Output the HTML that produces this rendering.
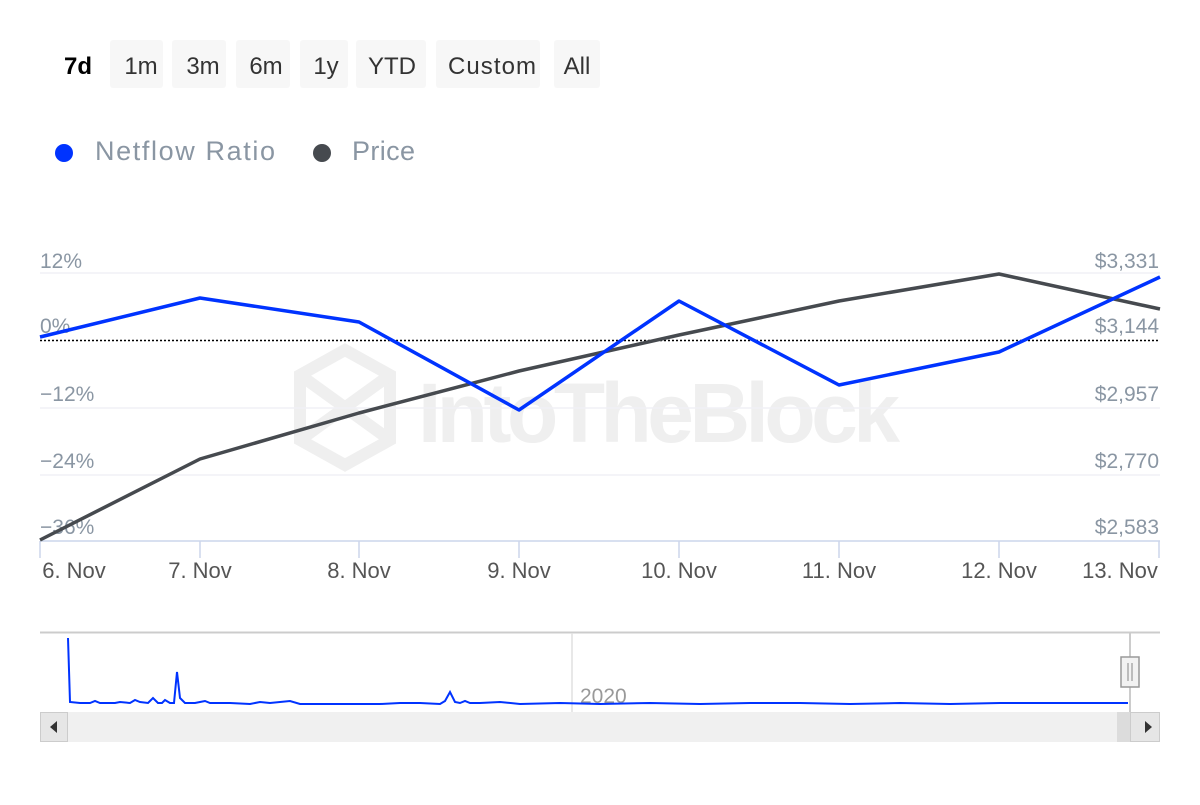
<!DOCTYPE html>
<html><head><meta charset="utf-8"><style>
body{margin:0;background:#fff;width:1200px;height:800px;overflow:hidden;font-family:"Liberation Sans","DejaVu Sans",sans-serif}
</style></head><body>
<svg width="1200" height="800" xmlns="http://www.w3.org/2000/svg" font-family="Liberation Sans, DejaVu Sans, sans-serif">
<g font-size="24" fill="#333" text-anchor="middle">
<text x="78" y="74" font-weight="bold" fill="#000">7d</text>
<rect x="110" y="40" width="53" height="48" rx="3" fill="#f7f7f7"/><text x="141" y="74">1m</text>
<rect x="172" y="40" width="54" height="48" rx="3" fill="#f7f7f7"/><text x="203" y="74">3m</text>
<rect x="236" y="40" width="54" height="48" rx="3" fill="#f7f7f7"/><text x="266" y="74">6m</text>
<rect x="300" y="40" width="48" height="48" rx="3" fill="#f7f7f7"/><text x="326" y="74">1y</text>
<rect x="356" y="40" width="70" height="48" rx="3" fill="#f7f7f7"/><text x="392" y="74">YTD</text>
<rect x="436" y="40" width="104" height="48" rx="3" fill="#f7f7f7"/><text x="492" y="74" textLength="88">Custom</text>
<rect x="554" y="40" width="46" height="48" rx="3" fill="#f7f7f7"/><text x="577" y="74">All</text>
</g>
<circle cx="64" cy="153" r="9" fill="#0033ff"/>
<text x="95" y="160" font-size="27" fill="#8a96a3" textLength="180">Netflow Ratio</text>
<circle cx="322" cy="153" r="9" fill="#464a4f"/>
<text x="352" y="160" font-size="27" fill="#8a96a3" textLength="63">Price</text>
<!-- watermark -->
<g fill="none" stroke="#efefef" stroke-width="12">
<polygon points="345,350 390,375 390,440 345,465 300,440 300,375"/>
<path d="M300,375 L390,440 M390,375 L300,440"/>
</g>
<text x="418" y="442" font-size="84" font-weight="bold" fill="#efefef" textLength="482">IntoTheBlock</text>
<!-- grid -->
<g stroke="#f0f0f5" stroke-width="1.5">
<line x1="40" y1="273" x2="1160" y2="273"/><line x1="40" y1="408" x2="1160" y2="408"/><line x1="40" y1="475" x2="1160" y2="475"/>
</g>
<line x1="40" y1="340.5" x2="1160" y2="340.5" stroke="#000" stroke-width="1.5" stroke-dasharray="2,2"/>
<line x1="40" y1="541" x2="1160" y2="541" stroke="#ccd6eb" stroke-width="1.5"/>
<g stroke="#ccd6eb" stroke-width="1.5">
<line x1="40" y1="541" x2="40" y2="558"/><line x1="200" y1="541" x2="200" y2="558"/><line x1="359" y1="541" x2="359" y2="558"/><line x1="519" y1="541" x2="519" y2="558"/><line x1="679" y1="541" x2="679" y2="558"/><line x1="839" y1="541" x2="839" y2="558"/><line x1="999" y1="541" x2="999" y2="558"/><line x1="1159" y1="541" x2="1159" y2="558"/>
</g>
<g font-size="21" fill="#8a96a3">
<text x="40" y="268">12%</text><text x="40" y="333">0%</text><text x="40" y="401">−12%</text><text x="40" y="468">−24%</text><text x="40" y="534">−36%</text>
</g>
<g font-size="21" fill="#8a96a3" text-anchor="end">
<text x="1159" y="268">$3,331</text><text x="1159" y="333">$3,144</text><text x="1159" y="401">$2,957</text><text x="1159" y="468">$2,770</text><text x="1159" y="534">$2,583</text>
</g>
<g font-size="22" fill="#555" text-anchor="middle">
<text x="74" y="578">6. Nov</text><text x="200" y="578">7. Nov</text><text x="359" y="578">8. Nov</text><text x="519" y="578">9. Nov</text><text x="679" y="578">10. Nov</text><text x="839" y="578">11. Nov</text><text x="999" y="578">12. Nov</text><text x="1120" y="578">13. Nov</text>
</g>
<polyline fill="none" stroke="#464a4f" stroke-width="3.5" stroke-linejoin="round" points="40,540 200,459 359,413 519,371 679,335 839,301 999,274 1160,309"/>
<polyline fill="none" stroke="#0033ff" stroke-width="3.5" stroke-linejoin="round" points="40,337 200,298 359,322 519,410 679,301 839,385 999,352 1160,277"/>
<!-- navigator -->
<line x1="40" y1="632.5" x2="1160" y2="632.5" stroke="#ccc" stroke-width="2"/>
<line x1="572" y1="633" x2="572" y2="712" stroke="#e0e0e0" stroke-width="1.5"/>
<text x="580" y="703" font-size="21" fill="#999">2020</text>
<polyline fill="none" stroke="#0033ff" stroke-width="2" points="68,638 70,702 80,703 90,703 95,701 100,703 115,703 120,702 130,703 135,700 140,702 148,703 153,698 158,703 162,703 165,700 170,703 174,703 177,672 180,698 185,703 195,703 200,702 205,701 210,703 230,703 250,704 260,702 270,703 290,701 300,704 340,704 380,704 400,703 420,703 440,704 445,701 450,692 455,702 460,703 465,701 470,703 480,703 500,702 520,704 560,703 600,704 650,703 700,704 750,703 800,703 850,704 900,703 950,704 1000,703 1050,703 1100,703 1128,703"/>
<rect x="40" y="712" width="1120" height="30" fill="#f0f0f0"/>
<rect x="40.5" y="712.5" width="27" height="29" fill="#e6e6e6" stroke="#ccc"/>
<polygon points="50,727 57,721 57,733" fill="#333"/>
<rect x="1117" y="712" width="13" height="30" fill="#dcdcdc"/>
<rect x="1130.5" y="712.5" width="29" height="29" fill="#e6e6e6" stroke="#ccc"/>
<polygon points="1152,727 1145,721 1145,733" fill="#333"/>
<line x1="1130" y1="633" x2="1130" y2="712" stroke="#ccc" stroke-width="2"/>
<rect x="1121" y="657" width="18" height="30" fill="#f2f2f2" stroke="#999" stroke-width="1.5"/>
<line x1="1128" y1="663" x2="1128" y2="681" stroke="#999" stroke-width="1.2"/>
<line x1="1132" y1="663" x2="1132" y2="681" stroke="#999" stroke-width="1.2"/>
</svg>
</body></html>
